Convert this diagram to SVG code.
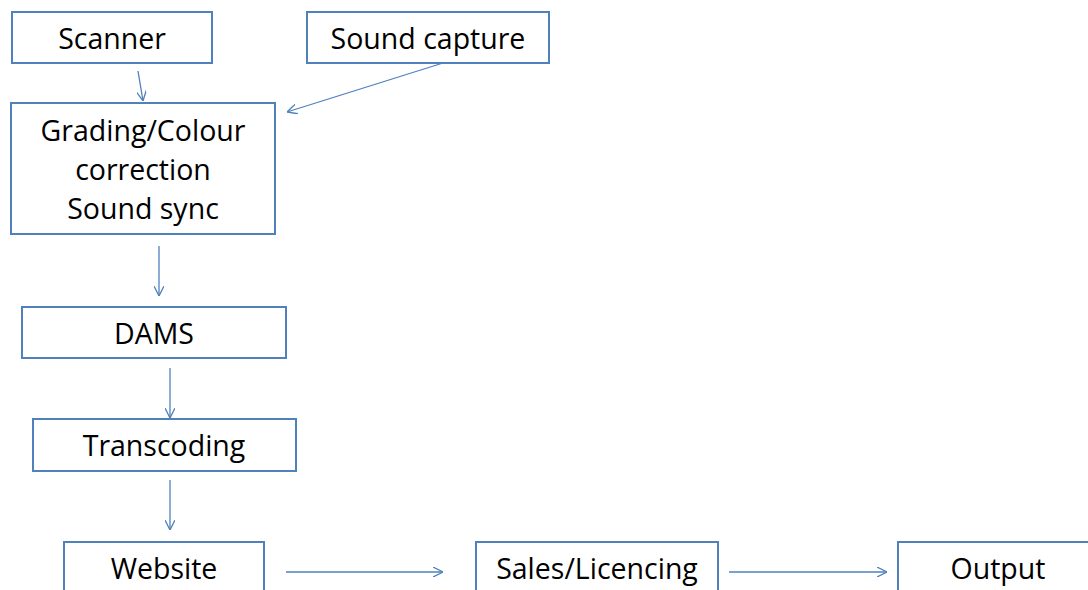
<svg xmlns="http://www.w3.org/2000/svg" width="1088" height="590" viewBox="0 0 1088 590">
<defs>
<marker id="ah" viewBox="0 0 10 10" refX="10" refY="5" markerWidth="10" markerHeight="10" markerUnits="userSpaceOnUse" orient="auto">
<path d="M0,0 L10,5 L0,10" fill="none" stroke="#4f81bd" stroke-width="1.3"/>
</marker>
</defs>
<style>
.box{fill:#fff;stroke:#4f81bd;stroke-width:2}
.t{font-family:"Open Sans","Liberation Sans",sans-serif;font-size:28.5px;fill:#000;text-anchor:middle}
.c{stroke:#4f81bd;stroke-width:1.3;fill:none;marker-end:url(#ah)}
</style>
<rect width="1088" height="590" fill="#fff"/>
<g id="connectors">
<line class="c" x1="138" y1="71" x2="143" y2="101"/>
<line class="c" x1="443" y1="63" x2="287" y2="112"/>
<line class="c" x1="159" y1="246" x2="159" y2="296"/>
<line class="c" x1="170" y1="368" x2="170" y2="418"/>
<line class="c" x1="170" y1="480" x2="170" y2="530"/>
<line class="c" x1="286" y1="572" x2="443" y2="572"/>
<line class="c" x1="729" y1="572" x2="887" y2="572"/>
</g>
<g id="scanner"><rect class="box" x="12" y="12" width="200" height="51"/><text class="t" x="112" y="49">Scanner</text></g>
<g id="sound-capture"><rect class="box" x="307" y="12" width="242" height="51"/><text class="t" x="428" y="49">Sound capture</text></g>
<g id="grading"><rect class="box" x="11" y="103" width="264" height="131"/>
<text class="t" x="143" y="141">Grading/Colour</text><text class="t" x="143" y="180">correction</text><text class="t" x="143" y="219">Sound sync</text></g>
<g id="dams"><rect class="box" x="22" y="307" width="264" height="51"/><text class="t" x="154" y="344">DAMS</text></g>
<g id="transcoding"><rect class="box" x="33" y="419" width="263" height="52"/><text class="t" x="164" y="456">Transcoding</text></g>
<g id="website"><rect class="box" x="64" y="542" width="200" height="60"/><text class="t" x="164" y="579">Website</text></g>
<g id="sales"><rect class="box" x="476" y="542" width="242" height="60"/><text class="t" x="597" y="579">Sales/Licencing</text></g>
<g id="output"><rect class="box" x="898" y="542" width="200" height="60"/><text class="t" x="998" y="579">Output</text></g>
</svg>
